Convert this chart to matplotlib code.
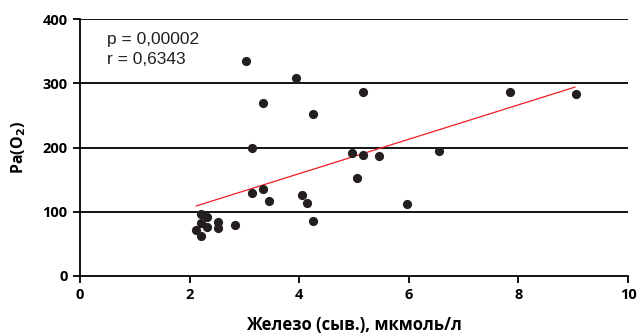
import numpy as np
import matplotlib
matplotlib.use("Agg")
import matplotlib.pyplot as plt

# данные: железо (сыв.) и Pa(O2)
fe = [3.03, 3.94, 5.16, 3.34, 4.25, 3.13, 4.96, 5.16, 5.46, 5.05,
      3.13, 3.34, 3.44, 4.05, 4.14, 4.25, 5.96, 2.21, 2.32, 2.21,
      2.32, 2.12, 2.21, 2.52, 2.52, 2.83, 7.85, 9.05, 6.55]
pao2 = [334, 308, 286, 269, 252, 200, 191, 189, 187, 152,
        129, 136, 117, 126, 114, 86, 112, 97, 92, 82,
        77, 71, 62, 84, 75, 80, 286, 284, 194]

# линия регрессии
fit_x = [2.12, 9.03]
fit_y = [109, 294]

x_ticks = [0, 2, 4, 6, 8, 10]
y_ticks = [0, 100, 200, 300, 400]

fig = plt.figure(figsize=(6.41, 3.34), dpi=100)
ax = fig.add_axes([0.1248, 0.1737, 0.855, 0.7693])

for yv in y_ticks[1:]:
    ax.axhline(yv, color="black", lw=1.3, zorder=1)

ax.plot(fit_x, fit_y, color="#ee1c25", lw=0.9, zorder=2)
ax.scatter(fe, pao2, s=44, color="#231f20", zorder=3, linewidths=0)

ax.set_xlim(0, 10)
ax.set_ylim(0, 400)
ax.set_xticks(x_ticks)
ax.set_yticks(y_ticks)

for s in ["top", "right"]:
    ax.spines[s].set_visible(False)
for s in ["left", "bottom"]:
    ax.spines[s].set_linewidth(1.3)
ax.tick_params(direction="out", length=5, width=1.3, pad=4)

tick_font = {"family": "Open Sans", "weight": "bold", "size": 10.5}
ax.set_xticklabels([str(v) for v in x_ticks], fontdict=tick_font)
ax.set_yticklabels([str(v) for v in y_ticks], fontdict=tick_font)

ax.set_xlabel("Железо (сыв.), мкмоль/л", fontdict={"family": "Open Sans", "weight": "bold", "size": 12}, labelpad=10)
ax.set_ylabel("Pa(O$_\\mathbf{2}$)", fontdict={"family": "Open Sans", "weight": "bold", "size": 11.5}, labelpad=10)

ax.text(0.5, 380, "p = 0,00002\nr = 0,6343", fontsize=12.5, family="Liberation Sans",
        va="top", ha="left", linespacing=1.45, color="#231f20")

fig.savefig("out.png", dpi=100)
